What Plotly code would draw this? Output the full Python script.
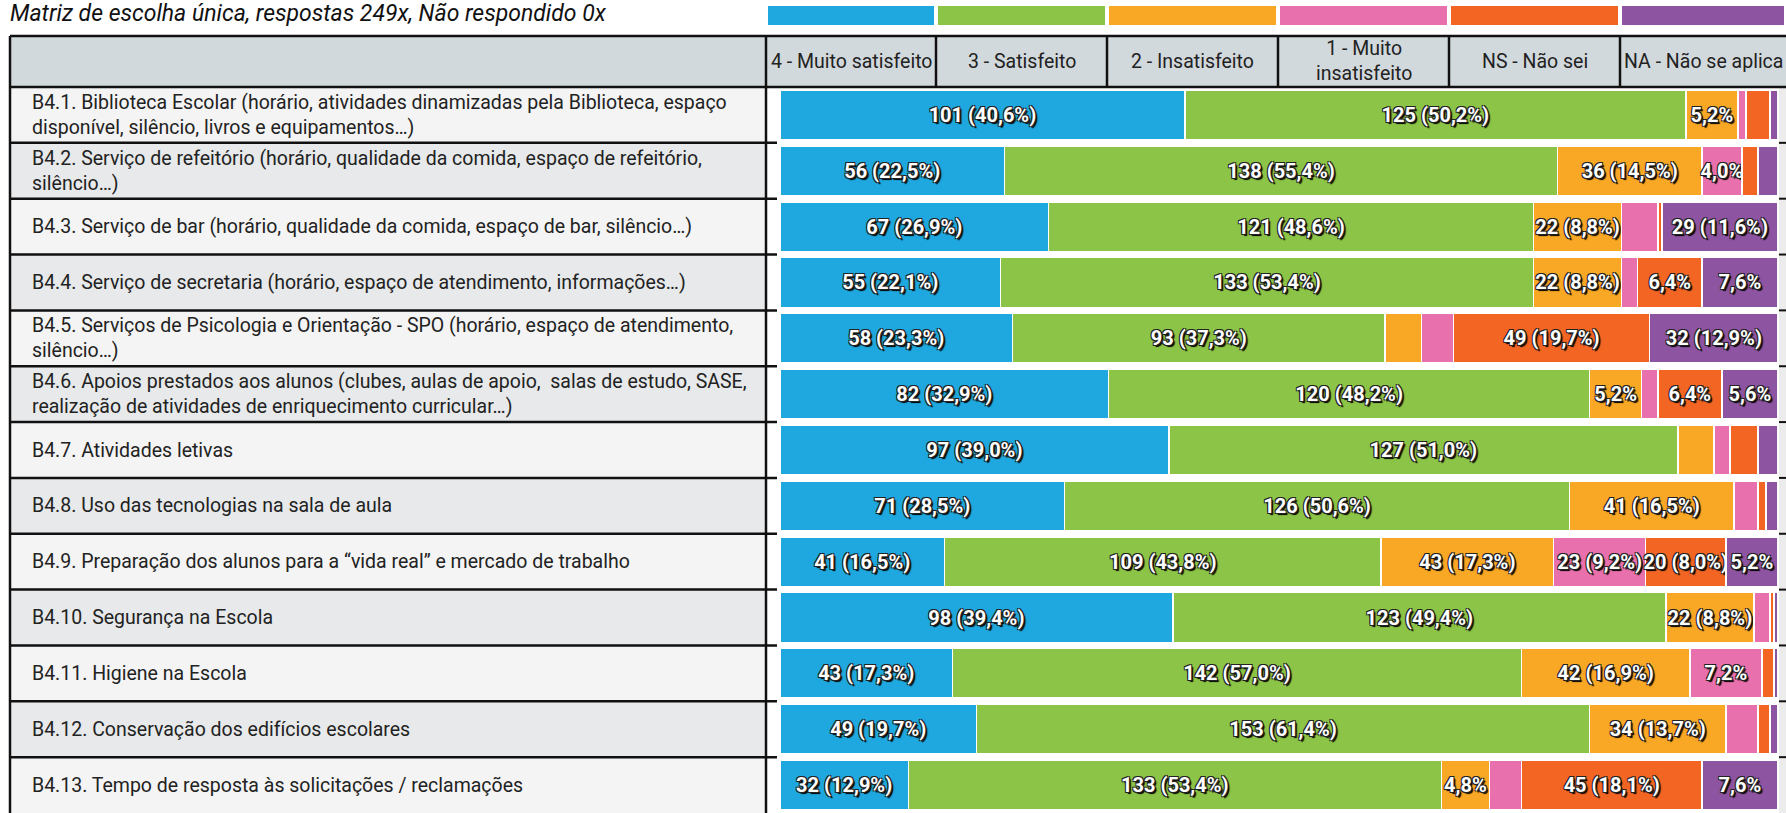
import plotly.graph_objects as go

W, H = 1786, 813

title_text = "Matriz de escolha única, respostas 249x, Não respondido 0x"

categories = ["4 - Muito satisfeito", "3 - Satisfeito", "2 - Insatisfeito",
              "1 - Muito insatisfeito", "NS - Não sei", "NA - Não se aplica"]
header_labels = ["4 - Muito satisfeito", "3 - Satisfeito", "2 - Insatisfeito",
                 "1 - Muito<br>insatisfeito", "NS - Não sei", "NA - Não se aplica"]
colors = ["#1fa7df", "#8bc446", "#f9a825", "#e870ac", "#f26522", "#8d54a1"]

items = [
    "B4.1. Biblioteca Escolar (horário, atividades dinamizadas pela Biblioteca, espaço<br>disponível, silêncio, livros e equipamentos…)",
    "B4.2. Serviço de refeitório (horário, qualidade da comida, espaço de refeitório,<br>silêncio…)",
    "B4.3. Serviço de bar (horário, qualidade da comida, espaço de bar, silêncio…)",
    "B4.4. Serviço de secretaria (horário, espaço de atendimento, informações…)",
    "B4.5. Serviços de Psicologia e Orientação - SPO (horário, espaço de atendimento,<br>silêncio…)",
    "B4.6. Apoios prestados aos alunos (clubes, aulas de apoio,  salas de estudo, SASE,<br>realização de atividades de enriquecimento curricular…)",
    "B4.7. Atividades letivas",
    "B4.8. Uso das tecnologias na sala de aula",
    "B4.9. Preparação dos alunos para a “vida real” e mercado de trabalho",
    "B4.10. Segurança na Escola",
    "B4.11. Higiene na Escola",
    "B4.12. Conservação dos edifícios escolares",
    "B4.13. Tempo de resposta às solicitações / reclamações",
]
item_ids = ["B4.%d" % (i + 1) for i in range(len(items))]

muito_satisfeito = [101, 56, 67, 55, 58, 82, 97, 71, 41, 98, 43, 49, 32]
satisfeito = [125, 138, 121, 133, 93, 120, 127, 126, 109, 123, 142, 153, 133]
insatisfeito = [13, 36, 22, 22, 9, 13, 9, 41, 43, 22, 42, 34, 12]
muito_insatisfeito = [2, 10, 9, 4, 8, 4, 4, 6, 23, 4, 18, 8, 8]
nao_sei = [6, 4, 1, 16, 49, 16, 7, 2, 20, 1, 3, 3, 45]
nao_aplica = [2, 5, 29, 19, 32, 14, 5, 3, 13, 1, 1, 2, 19]

series = [muito_satisfeito, satisfeito, insatisfeito, muito_insatisfeito, nao_sei, nao_aplica]
TOTAL = 249

# ---- geometry (pixels) ----
TABLE_L = 10
LABEL_R = 766
BAR_L, BAR_R = 780, 1778
HEAD_T, HEAD_B = 36, 87
BOTTOM = 813
col_edges = [766, 936, 1107, 1278, 1449, 1620, 1786]
n_rows = len(items)
row_h = (BOTTOM - HEAD_B) / n_rows

FONT = "Roboto, Liberation Sans, sans-serif"


def px(x):
    return x / W


def py(y):
    return 1 - y / H


def fmt_label(v):
    p = v / TOTAL * 100
    ps = ("%.1f" % p).replace(".", ",")
    if p >= 8:
        return "%d (%s%%)" % (v, ps)
    if p >= 4:
        return "%s%%" % ps
    return ""


fig = go.Figure()

for name, vals, col in zip(categories, series, colors):
    fig.add_trace(go.Bar(
        y=item_ids, x=vals, name=name, orientation="h",
        marker=dict(color=col, line=dict(color="white", width=1.5)),
        text=[fmt_label(v) for v in vals],
        textposition="inside", insidetextanchor="middle", textangle=0,
        constraintext="none",
        textfont=dict(family=FONT, size=20, color="white", weight="bold",
                      shadow="-1px -1px 0 #222, 1px -1px 0 #222, -1px 1px 0 #222, 1px 1px 0 #222, 2px 2px 1px #000"),
        hoverinfo="skip", showlegend=False,
    ))

shapes = []
annotations = []

# legend swatches
for i, col in enumerate(colors):
    x0 = col_edges[i] + 2
    x1 = col_edges[i + 1] - 2
    shapes.append(dict(type="rect", xref="paper", yref="paper",
                       x0=px(x0), x1=px(x1), y0=py(25), y1=py(6),
                       fillcolor=col, line=dict(width=0), layer="above"))

# header background
shapes.append(dict(type="rect", xref="paper", yref="paper",
                   x0=px(TABLE_L), x1=px(W), y0=py(HEAD_B), y1=py(HEAD_T),
                   fillcolor="#d2d9dd", line=dict(width=0), layer="below"))

# label rows background
for i in range(n_rows):
    y0 = HEAD_B + i * row_h
    y1 = y0 + row_h
    fill = "#f4f4f4" if i % 2 == 0 else "#e7e9ea"
    shapes.append(dict(type="rect", xref="paper", yref="paper",
                       x0=px(TABLE_L), x1=px(LABEL_R), y0=py(y1), y1=py(y0),
                       fillcolor=fill, line=dict(width=0), layer="below"))
    annotations.append(dict(xref="paper", yref="paper", x=px(30), y=py((y0 + y1) / 2),
                            text=items[i], showarrow=False, xanchor="left", yanchor="middle",
                            align="left",
                            font=dict(family=FONT, size=19.5, color="#222")))

# right edge strip
shapes.append(dict(type="rect", xref="paper", yref="paper",
                   x0=px(BAR_R + 1), x1=px(W), y0=py(BOTTOM), y1=py(HEAD_B + 1),
                   fillcolor="#ececec", line=dict(width=0), layer="below"))

# lines
LINE = dict(color="#111", width=2.5)
shapes.append(dict(type="line", xref="paper", yref="paper",
                   x0=px(TABLE_L), x1=px(W), y0=py(HEAD_T), y1=py(HEAD_T), line=LINE))
shapes.append(dict(type="line", xref="paper", yref="paper",
                   x0=px(TABLE_L), x1=px(W), y0=py(HEAD_B), y1=py(HEAD_B), line=LINE))
shapes.append(dict(type="line", xref="paper", yref="paper",
                   x0=px(TABLE_L), x1=px(TABLE_L), y0=py(BOTTOM), y1=py(HEAD_T), line=LINE))
shapes.append(dict(type="line", xref="paper", yref="paper",
                   x0=px(LABEL_R), x1=px(LABEL_R), y0=py(BOTTOM), y1=py(HEAD_T), line=LINE))
for xe in col_edges[1:-1]:
    shapes.append(dict(type="line", xref="paper", yref="paper",
                       x0=px(xe), x1=px(xe), y0=py(HEAD_B), y1=py(HEAD_T), line=LINE))
for i in range(1, n_rows):
    yl = HEAD_B + i * row_h
    shapes.append(dict(type="line", xref="paper", yref="paper",
                       x0=px(TABLE_L), x1=px(777), y0=py(yl), y1=py(yl), line=LINE))
    shapes.append(dict(type="line", xref="paper", yref="paper",
                       x0=px(BAR_R + 1), x1=px(W), y0=py(yl), y1=py(yl),
                       line=dict(color="#111", width=2)))

# header labels
for i, lab in enumerate(header_labels):
    annotations.append(dict(xref="paper", yref="paper",
                            x=px((col_edges[i] + col_edges[i + 1]) / 2), y=py((HEAD_T + HEAD_B) / 2),
                            text=lab, showarrow=False, xanchor="center", yanchor="middle",
                            align="center",
                            font=dict(family=FONT, size=19.5, color="#222")))

# title
annotations.append(dict(xref="paper", yref="paper", x=px(8), y=py(14),
                        text="<i>%s</i>" % title_text, showarrow=False,
                        xanchor="left", yanchor="middle",
                        font=dict(family=FONT, size=23, color="#111")))

fig.update_layout(
    width=W, height=H,
    margin=dict(l=0, r=0, t=0, b=0),
    barmode="stack", bargap=0.11,
    paper_bgcolor="white", plot_bgcolor="white",
    xaxis=dict(domain=[px(BAR_L), px(BAR_R)], range=[0, TOTAL], visible=False, fixedrange=True),
    yaxis=dict(domain=[0, py(HEAD_B)], range=[n_rows - 0.5, -0.5], visible=False,
               categoryorder="array", categoryarray=item_ids, fixedrange=True),
    shapes=shapes, annotations=annotations,
    uniformtext=dict(mode=False),
)

fig.write_html("out.html", config={"displayModeBar": False},
               post_script="document.body.style.margin='0';document.body.style.overflow='hidden';")
